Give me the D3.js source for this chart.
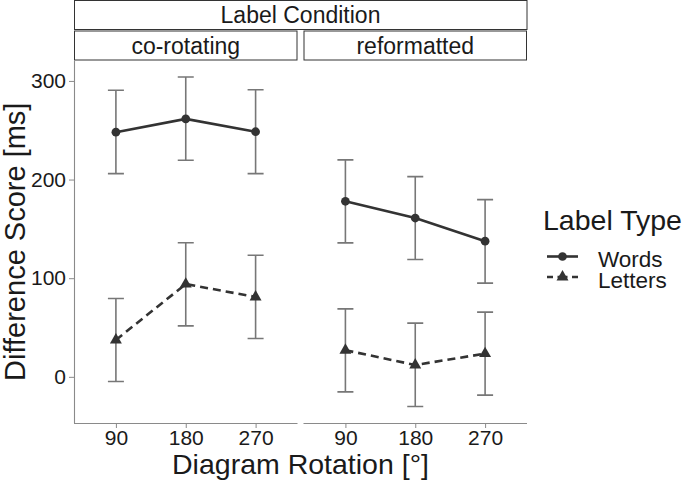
<!DOCTYPE html>
<html>
<head>
<meta charset="utf-8">
<script src="https://cdn.jsdelivr.net/npm/d3@7"></script>
<style>
  html, body { margin: 0; padding: 0; background: #fff; }
  svg { display: block; font-family: "Liberation Sans", Arial, sans-serif; }
</style>
</head>
<body>
<svg id="chart" width="685" height="481"></svg>
<script>
// ---- data ----
const facetTitle = "Label Condition";
const conditions = ["co-rotating", "reformatted"];
const rotations = ["90", "180", "270"];
const labelTypes = ["Words", "Letters"];
const yTicks = [0, 100, 200, 300];

// co-rotating
const coWordsMean  = [248, 261.5, 248.5];
const coWordsLow   = [206, 219.6, 206];
const coWordsHigh  = [290.5, 304, 291];
const coLettersMean = [37.4, 94, 81];
const coLettersLow  = [-4.7, 51.7, 38.8];
const coLettersHigh = [79.4, 136, 123.3];
// reformatted
const reWordsMean  = [178, 161, 137.5];
const reWordsLow   = [135.8, 118.9, 95];
const reWordsHigh  = [220, 203, 179.7];
const reLettersMean = [27, 12, 23.5];
const reLettersLow  = [-15.2, -30.1, -18.5];
const reLettersHigh = [68.9, 54.4, 65.6];

const panelData = [
  { cond: conditions[0], series: [
    { type: labelTypes[0], mean: coWordsMean, low: coWordsLow, high: coWordsHigh },
    { type: labelTypes[1], mean: coLettersMean, low: coLettersLow, high: coLettersHigh } ] },
  { cond: conditions[1], series: [
    { type: labelTypes[0], mean: reWordsMean, low: reWordsLow, high: reWordsHigh },
    { type: labelTypes[1], mean: reLettersMean, low: reLettersLow, high: reLettersHigh } ] }
];

// ---- layout ----
const svg = d3.select("#chart");
const panelTop = 60.5, panelBottom = 423;
const panelX = [[74, 297.5], [303.5, 527]];
const lineColor = "#333333";
const errColor = "#777777";
const axisColor = "#8a8a8a";
const font = "\"Liberation Sans\", Arial, sans-serif";

const allVals = [].concat(coWordsLow, coWordsHigh, coLettersLow, coLettersHigh,
  reWordsLow, reWordsHigh, reLettersLow, reLettersHigh);
const vmin = d3.min(allVals), vmax = d3.max(allVals);
const pad = (vmax - vmin) * 0.05;
const y = d3.scaleLinear().domain([vmin - pad, vmax + pad]).range([panelBottom, panelTop]);

// strips
svg.append("rect").attr("x", 74.5).attr("y", 0.5).attr("width", 527 - 74.5).attr("height", 29)
  .attr("fill", "#fff").attr("stroke", lineColor).attr("stroke-width", 1);
svg.append("text").attr("x", (74 + 527) / 2).attr("y", 23).attr("text-anchor", "middle")
  .attr("font-size", 23).attr("fill", "#1a1a1a").text(facetTitle);

panelData.forEach((pd, i) => {
  const [x0, x1] = panelX[i];
  svg.append("rect").attr("x", x0 + 0.5).attr("y", 31).attr("width", x1 - x0 - 1).attr("height", 29)
    .attr("fill", "#fff").attr("stroke", lineColor).attr("stroke-width", 1);
  svg.append("text").attr("x", (x0 + x1) / 2).attr("y", 53.5).attr("text-anchor", "middle")
    .attr("font-size", 23).attr("fill", "#1a1a1a").text(pd.cond);

  const x = d3.scalePoint().domain(rotations).range([x0, x1]).padding(0.6);
  const g = svg.append("g");

  // x axis
  const xAxis = g.append("g").attr("transform", `translate(0,${panelBottom})`)
    .call(d3.axisBottom(x).tickSize(5).tickSizeOuter(0).tickPadding(2));
  xAxis.select(".domain").attr("stroke", axisColor).attr("stroke-width", 1.1)
    .attr("d", `M${x0},0.5H${x1}`);
  xAxis.selectAll(".tick line").attr("stroke", axisColor);
  xAxis.selectAll(".tick text").attr("font-size", 21).attr("fill", "#1a1a1a").attr("font-family", font);

  if (i === 0) {
    const yAxis = g.append("g").attr("transform", `translate(${x0},0)`)
      .call(d3.axisLeft(y).tickValues(yTicks).tickSize(5).tickSizeOuter(0).tickPadding(3));
    yAxis.select(".domain").attr("stroke", axisColor).attr("stroke-width", 1.1)
      .attr("d", `M0.5,${panelTop}V${panelBottom}`);
    yAxis.selectAll(".tick line").attr("stroke", axisColor);
    yAxis.selectAll(".tick text").attr("font-size", 21).attr("fill", "#1a1a1a").attr("font-family", font);
  }

  pd.series.forEach((s, si) => {
    // error bars
    rotations.forEach((r, k) => {
      const cx = x(r);
      g.append("path")
        .attr("d", `M${cx - 8},${y(s.high[k])}H${cx + 8}M${cx},${y(s.high[k])}V${y(s.low[k])}M${cx - 8},${y(s.low[k])}H${cx + 8}`)
        .attr("fill", "none").attr("stroke", errColor).attr("stroke-width", 1.6);
    });
    // line
    const line = d3.line().x((d, k) => x(rotations[k])).y(d => y(d));
    g.append("path").datum(s.mean).attr("d", line)
      .attr("fill", "none").attr("stroke", lineColor).attr("stroke-width", 2.6)
      .attr("stroke-dasharray", si === 1 ? "8,5" : null);
    // points
    const sym = si === 0 ? d3.symbol(d3.symbolCircle, 60) : d3.symbol(d3.symbolTriangle, 62);
    g.selectAll(null).data(s.mean).join("path")
      .attr("transform", (d, k) => `translate(${x(rotations[k])},${y(d)})`)
      .attr("d", sym).attr("fill", lineColor);
  });
});

// axis titles
svg.append("text").attr("x", (74 + 527) / 2).attr("y", 474).attr("text-anchor", "middle")
  .attr("font-size", 28.5).attr("fill", "#1a1a1a").text("Diagram Rotation [°]");
svg.append("text").attr("transform", `translate(25,${(panelTop + panelBottom) / 2}) rotate(-90)`)
  .attr("text-anchor", "middle").attr("font-size", 29).attr("fill", "#1a1a1a").text("Difference Score [ms]");

// legend
const lg = svg.append("g");
lg.append("text").attr("x", 543).attr("y", 230).attr("font-size", 28.5).attr("fill", "#1a1a1a").text("Label Type");
const legY = [256.5, 277];
labelTypes.forEach((t, i) => {
  lg.append("path").attr("d", `M547,${legY[i]}H578`).attr("stroke", lineColor).attr("stroke-width", 2.6)
    .attr("stroke-dasharray", i === 1 ? "6,4.5,10,4.5,6" : null);
  lg.append("path").attr("transform", `translate(562.5,${legY[i]})`)
    .attr("d", i === 0 ? d3.symbol(d3.symbolCircle, 60)() : d3.symbol(d3.symbolTriangle, 62)())
    .attr("fill", lineColor);
  lg.append("text").attr("x", 598).attr("y", legY[i] + 10.5).attr("font-size", 22.5).attr("fill", "#1a1a1a").text(t);
});
</script>
</body>
</html>
